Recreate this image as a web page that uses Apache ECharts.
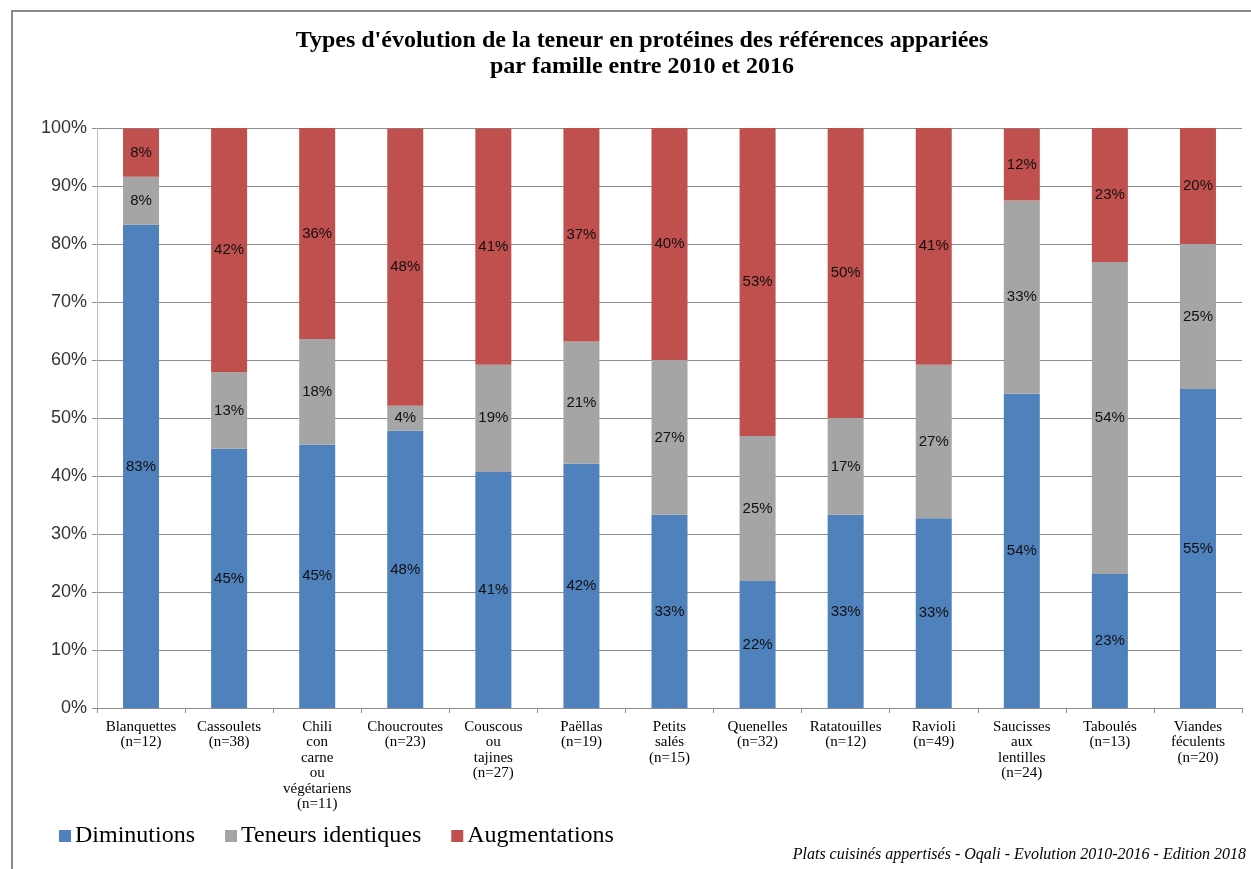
<!DOCTYPE html>
<html>
<head>
<meta charset="utf-8">
<script src="https://cdn.jsdelivr.net/npm/echarts@6/dist/echarts.min.js"></script>
<style>
  html, body { margin: 0; padding: 0; background: #fff; }
  #wrap { position: relative; width: 1251px; height: 869px; overflow: hidden; }
  #frame { position: absolute; left: 11px; top: 10px; width: 1260px; height: 880px;
           border: 2px solid #8a8a8a; box-sizing: border-box; }
  #chart { position: absolute; left: 0; top: 0; width: 1251px; height: 869px; }
</style>
</head>
<body>
<div id="wrap">
  <div id="frame"></div>
  <div id="chart"></div>
</div>
<script>
// Protein content change types per product family, share of paired references (%)
const categories = [
  'Blanquettes\n(n=12)',
  'Cassoulets\n(n=38)',
  'Chili\ncon\ncarne\nou\nvégétariens\n(n=11)',
  'Choucroutes\n(n=23)',
  'Couscous\nou\ntajines\n(n=27)',
  'Paëllas\n(n=19)',
  'Petits\nsalés\n(n=15)',
  'Quenelles\n(n=32)',
  'Ratatouilles\n(n=12)',
  'Ravioli\n(n=49)',
  'Saucisses\naux\nlentilles\n(n=24)',
  'Taboulés\n(n=13)',
  'Viandes\nféculents\n(n=20)'
];
const diminutions = [83.3, 44.7, 45.4, 47.8, 40.7, 42.1, 33.3, 21.9, 33.3, 32.7, 54.2, 23.1, 55.0];
const identiques  = [8.3, 13.2, 18.2, 4.3, 18.5, 21.1, 26.7, 25.0, 16.7, 26.5, 33.3, 53.8, 25.0];
const augmentations = [8.3, 42.1, 36.4, 47.8, 40.7, 36.8, 40.0, 53.1, 50.0, 40.8, 12.4, 23.1, 20.0];
const yTicks = [0, 10, 20, 30, 40, 50, 60, 70, 80, 90, 100];

const serif = '"Liberation Serif", "DejaVu Serif", serif';
const sans = '"Liberation Sans", "Noto Sans", sans-serif';

const labelStyle = {
  show: true,
  position: 'inside',
  fontFamily: sans,
  fontSize: 15,
  color: '#111',
  formatter: p => Math.round(p.value) + '%'
};

function barSeries(name, data, color) {
  return {
    name, type: 'bar', stack: 'total', data,
    barWidth: 36,
    itemStyle: { color },
    label: labelStyle,
    emphasis: { disabled: true }
  };
}

const chart = echarts.init(document.getElementById('chart'), null, { renderer: 'canvas' });
chart.setOption({
  animation: false,
  backgroundColor: 'transparent',
  title: {
    text: "Types d'évolution de la teneur en protéines des références appariées\npar famille entre 2010 et 2016",
    left: 637, top: 23, textAlign: 'center',
    textStyle: { fontFamily: serif, fontWeight: 'bold', fontSize: 24, lineHeight: 26, color: '#000' }
  },
  legend: {
    left: 54, top: 819,
    itemWidth: 12, itemHeight: 12, itemGap: 30,
    icon: 'rect',
    textStyle: { fontFamily: serif, fontSize: 24, color: '#000', padding: [0, 0, 0, -1] },
    data: ['Diminutions', 'Teneurs identiques', 'Augmentations']
  },
  graphic: [{
    type: 'text', right: 5, top: 847,
    style: {
      text: 'Plats cuisinés appertisés - Oqali - Evolution 2010-2016 - Edition 2018',
      font: 'italic 16px ' + serif, fill: '#000'
    }
  }],
  grid: { left: 97, right: 9, top: 128, bottom: 161, containLabel: false },
  xAxis: {
    type: 'category', data: categories,
    axisLine: { lineStyle: { color: '#8c8c8c' } },
    axisTick: { show: true, length: 5, lineStyle: { color: '#8c8c8c' } },
    axisLabel: { interval: 0, fontFamily: serif, fontSize: 15, lineHeight: 15.5, color: '#000', margin: 11 }
  },
  yAxis: {
    type: 'value', min: 0, max: 100, interval: 10,
    axisLine: { show: true, lineStyle: { color: '#bfbfbf' } },
    axisTick: { show: true, length: 5, lineStyle: { color: '#8c8c8c' } },
    splitLine: { lineStyle: { color: '#8c8c8c' } },
    axisLabel: {
      fontFamily: sans, fontSize: 18, color: '#333', margin: 10,
      formatter: v => (yTicks.includes(v) ? v + '%' : '')
    }
  },
  series: [
    barSeries('Diminutions', diminutions, '#4f81bd'),
    barSeries('Teneurs identiques', identiques, '#a5a5a5'),
    barSeries('Augmentations', augmentations, '#c0504d')
  ]
});
</script>
</body>
</html>
